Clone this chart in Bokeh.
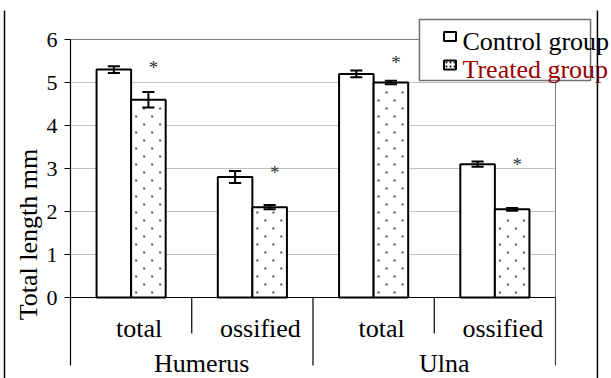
from bokeh.plotting import figure
from bokeh.models import LinearAxis, FixedTicker, Range1d
from bokeh.core.properties import value
from bokeh.embed import file_html
from bokeh.resources import INLINE

# ---- data ----
categories = ["total", "ossified", "total", "ossified"]
groups = ["Humerus", "Ulna"]
control = [5.3, 2.8, 5.2, 3.1]
control_err = [0.08, 0.14, 0.08, 0.06]
treated = [4.6, 2.1, 5.0, 2.05]
treated_err = [0.18, 0.05, 0.04, 0.03]
star_y = [5.42, 2.98, 5.53, 3.17]
y_ticks = [0, 1, 2, 3, 4, 5, 6]
series_names = ["Control group", "Treated group"]

FONT = value("Liberation Serif")
PX_X = 121.25   # screen px per x data unit
PX_Y = 43.0     # screen px per y data unit

# frame covers the whole canvas
p = figure(width=611, height=378, output_backend="svg", toolbar_location=None,
           x_axis_type=None, y_axis_type=None,
           x_range=Range1d(-0.5773, 4.4619), y_range=Range1d(-1.8837, 6.907),
           min_border_left=0, min_border_right=0, min_border_top=0, min_border_bottom=0)
p.outline_line_color = None
p.xgrid.visible = False
p.ygrid.visible = False

n = len(categories)
centers = [i + 0.5 for i in range(n)]
bw = 0.285

# gridlines
grid_vals = [t for t in y_ticks if 0 < t < 6]
p.segment(x0=[0] * len(grid_vals), x1=[n] * len(grid_vals), y0=grid_vals, y1=grid_vals,
          line_color="#c0c0c0", line_width=1)
# plot area top and right border
p.segment(x0=[0, n], x1=[n, n], y0=[y_ticks[-1], 0], y1=[y_ticks[-1], y_ticks[-1]],
          line_color="#808080", line_width=1)

# bars
cx = [c - bw / 2 for c in centers]
tx = [c + bw / 2 for c in centers]
p.vbar(x=cx, top=control, width=bw, bottom=0, fill_color="white",
       line_color="black", line_width=2)
p.vbar(x=tx, top=treated, width=bw, bottom=0, fill_color="white",
       line_color="black", line_width=2)

# dotted fill pattern of the treated bars (staggered dots)
dot_x, dot_y = [], []
for xc, top in zip(tx, treated):
    left = xc - bw / 2
    h_px = top * PX_Y
    k = 0
    while 5 + 8 * k < h_px - 4:
        offs = (5, 21) if k % 2 == 0 else (13, 29)
        for o in offs:
            dot_x.append(left + o / PX_X)
            dot_y.append((5 + 8 * k) / PX_Y)
        k += 1
p.scatter(x=dot_x, y=dot_y, marker="square", size=2, fill_color="#555555", line_color=None)

# error bars
cap = 0.05
for xs, vals, errs in ((cx, control, control_err), (tx, treated, treated_err)):
    lo = [v - e for v, e in zip(vals, errs)]
    hi = [v + e for v, e in zip(vals, errs)]
    p.segment(x0=xs, x1=xs, y0=lo, y1=hi, line_color="black", line_width=2)
    p.segment(x0=[x - cap for x in xs], x1=[x + cap for x in xs], y0=hi, y1=hi,
              line_color="black", line_width=2)
    p.segment(x0=[x - cap for x in xs], x1=[x + cap for x in xs], y0=lo, y1=lo,
              line_color="black", line_width=2)

# significance stars
p.text(x=tx, y=star_y, text=["*"] * n, text_font=FONT, text_font_size="19px",
       text_align="center", text_baseline="middle", x_offset=5, y_offset=3,
       text_color="#333333")

# axes lines (x axis and y axis line extended)
p.segment(x0=[0], x1=[n], y0=[0], y1=[0], line_color="black", line_width=1.2)
p.segment(x0=[0], x1=[0], y0=[-1.581], y1=[y_ticks[-1]], line_color="black", line_width=1.2)
# category dividers
p.segment(x0=[1, 3], x1=[1, 3], y0=[0, 0], y1=[-0.837, -0.837], line_color="black", line_width=1.2)
p.segment(x0=[2], x1=[2], y0=[0], y1=[-1.581], line_color="black", line_width=1.2)
p.segment(x0=[n], x1=[n], y0=[0], y1=[-1.581], line_color="#404040", line_width=1.2)

# y axis
yaxis = LinearAxis(fixed_location=0, ticker=FixedTicker(ticks=y_ticks))
yaxis.axis_line_color = None
yaxis.major_tick_out = 6
yaxis.major_tick_in = 0
yaxis.minor_tick_out = 0
yaxis.minor_tick_in = 0
yaxis.major_tick_line_color = "black"
yaxis.major_label_standoff = 7
yaxis.major_label_text_font = "Liberation Serif"
yaxis.major_label_text_font_size = "22px"
yaxis.major_label_text_color = "black"
p.add_layout(yaxis, "left")

# y axis title
p.text(x=[-0.3464], y=[1.465], text=["Total length mm"], angle=1.5708,
       text_font=FONT, text_font_size="26px", text_align="center",
       text_baseline="alphabetic", text_color="black")

# category labels
p.text(x=centers, y=[-0.721] * n, text=categories, text_font=FONT, text_font_size="26px",
       text_align="center", text_baseline="alphabetic", x_offset=8, text_color="black")
gx = [1.0, 3.0]
p.text(x=gx, y=[-1.535] * len(groups), text=groups, text_font=FONT, text_font_size="26px",
       text_align="center", text_baseline="alphabetic", x_offset=10, text_color="black")

# legend (manual)
p.quad(left=[2.878], right=[4.289], top=[6.465], bottom=[5.047], fill_color="white",
       line_color="#707070", line_width=1.5)
p.rect(x=[3.13], y=[6.07], width=12, height=9, width_units="screen", height_units="screen",
       fill_color="white", line_color="black", line_width=2)
p.rect(x=[3.13], y=[5.407], width=12, height=9, width_units="screen", height_units="screen",
       fill_color="white", line_color="black", line_width=2, hatch_pattern="dot",
       hatch_color="black", hatch_scale=4, hatch_weight=1)
p.text(x=[3.233, 3.233], y=[5.953, 5.302], text=series_names,
       text_color=["black", "#990000"], text_font=FONT, text_font_size="26px",
       text_align="left", text_baseline="alphabetic")

# outer frame lines
p.segment(x0=[-0.5443, 4.346], x1=[-0.5443, 4.346], y0=[6.674, 6.674], y1=[-1.9, -1.9],
          line_color="black", line_width=1.5)

open("out.html", "w").write(file_html(p, INLINE))
